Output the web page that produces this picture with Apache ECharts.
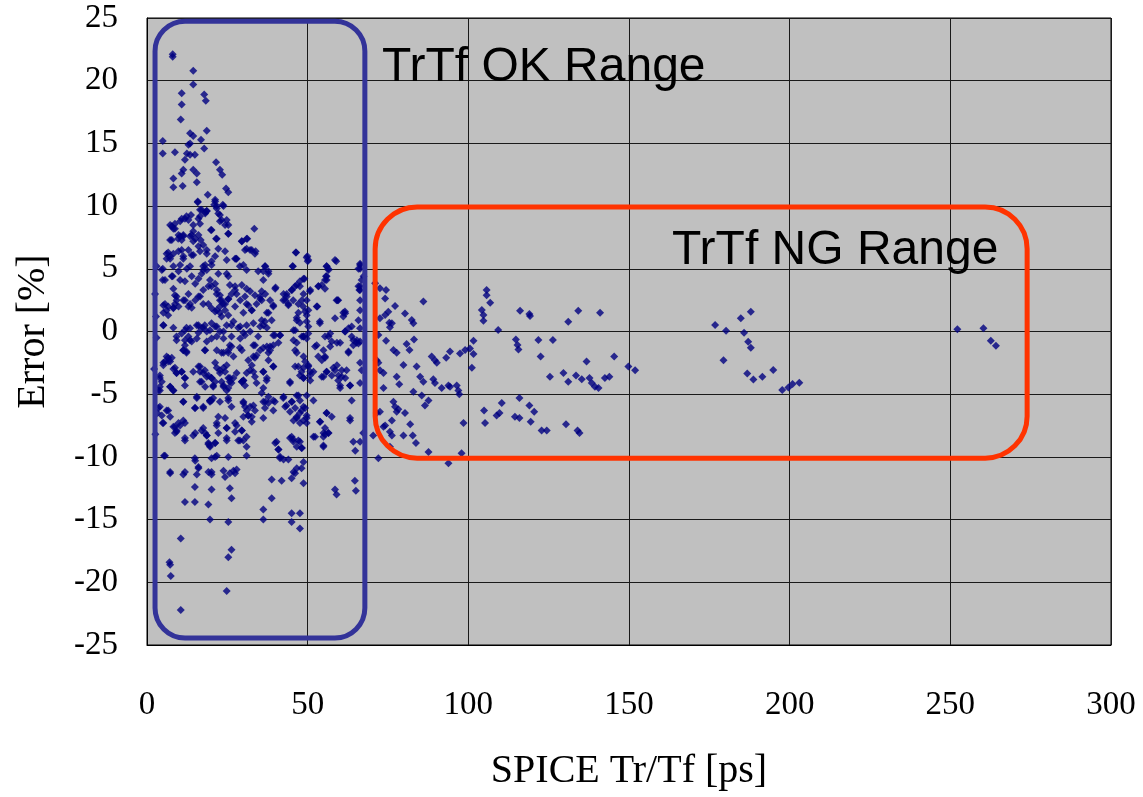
<!DOCTYPE html>
<html>
<head>
<meta charset="utf-8">
<title>TrTf error</title>
<script src="https://cdn.jsdelivr.net/npm/echarts@6/dist/echarts.min.js"></script>
<style>
    html, body { margin: 0; padding: 0; background: #fff; }
    #main { width: 1143px; height: 797px; }
</style>
</head>
<body>
<div id="main"></div>
<script>
// axis ticks
var xTicks = [0, 50, 100, 150, 200, 250, 300];
var yTicks = [-25, -20, -15, -10, -5, 0, 5, 10, 15, 20, 25];

// points, [SPICE Tr/Tf ps, error %]
var pointsUpper = [
    [8.0,22.1],[8.0,21.9],[14.4,20.8],[14.4,19.7],[10.8,19.0],[10.8,18.1],[17.8,18.9],[18.3,18.4],
    [10.5,16.9],[13.4,15.8],[14.4,15.6],[13.4,15.0],[12.9,14.9],[16.8,15.3],[18.6,16.0],[4.9,15.2],
    [4.9,14.2],[8.7,14.3],[12.4,14.2],[13.4,14.1],[11.8,13.7],[14.9,14.1],[17.8,14.6],[21.5,13.5],
    [22.7,12.9],[23.4,12.5],[11.3,12.9],[10.8,12.6],[14.4,12.9],[15.5,12.6],[8.2,12.2],[8.2,11.5],
    [11.1,11.6],[15.5,11.9],[24.6,11.4],[25.3,11.1],[18.9,10.9],[21.2,10.5],[20.9,10.1],[21.7,10.0],
    [23.6,10.1],[15.8,10.3],[17.0,9.7],[18.1,9.5],[18.6,9.6],[16.5,9.2],[22.7,9.3],[23.2,8.9],
    [25.3,8.5],[13.7,9.3],[11.8,9.0],[33.4,8.2],[7.7,8.4],[8.7,8.2],[7.2,7.3],[10.3,7.6],
    [10.8,7.3],[9.7,7.4],[11.3,7.7],[19.9,8.1],[14.4,8.0],[13.4,7.6],[16.0,7.7],[14.4,7.2],
    [16.7,7.3],[21.5,7.4],[25.3,7.8],[29.5,7.2],[31.2,7.4],[31.0,6.6],[32.1,6.5],[33.8,6.4],
    [24.3,6.4],[22.2,6.6],[6.6,6.3],[7.2,6.0],[6.1,5.8],[8.2,6.2],[10.8,6.5],[11.3,5.8],
    [14.4,6.1],[16.5,6.4],[18.6,6.5],[27.7,5.8],[46.3,6.3],[49.7,5.9],[50.0,5.6],[58.5,5.7],
    [55.9,5.2],[56.4,5.0],[66.3,5.4],[65.8,5.0],[4.9,5.0],[4.9,4.1],[8.2,5.2],[8.0,4.4],
    [10.3,5.3],[12.4,5.0],[13.4,5.2],[17.5,5.2],[18.6,4.9],[20.1,5.3],[17.0,4.6],[27.9,5.8],
    [22.2,4.6],[24.8,4.6],[25.3,4.4],[28.9,5.2],[30.0,5.3],[31.0,4.9],[34.6,4.8],[36.7,5.2],
    [37.8,4.6],[45.3,5.2],[49.0,4.2],[40.0,3.5],[43.5,3.0],[45.0,3.3],[46.6,3.7],[47.6,3.6],
    [53.3,3.6],[54.4,3.7],[55.9,4.4],[55.4,4.1],[59.5,2.5],[66.3,3.6],[66.1,3.3],[5.6,2.2],
    [5.1,1.5],[6.6,2.0],[8.2,1.9],[9.2,2.8],[8.7,2.2],[11.3,2.5],[13.4,2.2],[13.9,1.9],
    [16.5,2.8],[17.5,2.2],[20.1,3.6],[21.7,3.0],[22.7,2.5],[23.7,2.2],[25.3,2.6],[25.8,3.7],
    [21.7,1.7],[22.7,1.5],[23.2,1.2],[27.4,3.6],[27.9,3.0],[29.5,3.7],[31.0,3.4],[32.1,3.2],
    [33.6,2.9],[35.2,2.6],[31.0,2.2],[32.6,1.7],[30.0,1.5],[37.8,1.5],[35.7,0.9],[39.3,2.1],
    [42.4,2.5],[44.0,2.2],[45.5,2.5],[47.1,2.2],[48.6,2.0],[49.2,1.6],[50.7,3.2],[52.8,2.0],
    [59.0,2.5],[61.1,1.5],[61.6,1.6],[66.3,1.7],[53.8,0.8],[46.6,1.1],[47.6,0.7]
];

var pointsLower = [
    [5.1,0.5],[10.8,-0.15],[11.8,0.1],[13.4,0.25],[16.0,0.5],[17.0,0.25],[18.0,0.5],[19.6,0.1],
    [21.2,0.4],[22.7,0.0],[24.8,0.5],[26.9,0.8],[29.0,0.4],[31.0,0.5],[33.1,0.65],[35.2,0.4],
    [36.7,0.8],[39.8,-0.3],[41.4,-0.3],[46.1,0.1],[48.7,-0.4],[50.2,-0.15],[53.8,0.65],[57.0,-0.15],
    [61.6,0.0],[64.2,-0.7],[65.8,-0.95],[13.4,-0.7],[11.8,-1.1],[11.3,-1.5],[12.3,-1.7],[18.0,-1.5],
    [23.2,-1.7],[25.8,-1.1],[25.3,-1.7],[26.9,-2.0],[28.9,-1.3],[33.6,-1.1],[36.2,-1.3],[37.8,-1.7],
    [38.3,-1.2],[31.5,-2.3],[33.1,-2.0],[46.6,-0.9],[46.6,-1.7],[48.7,-2.0],[49.2,-2.4],[52.8,-1.1],
    [53.3,-2.0],[55.4,-2.0],[57.5,-0.8],[60.1,-0.9],[62.7,-1.7],[64.2,-1.1],[65.2,-0.9],[6.1,-2.0],
    [7.7,-2.1],[6.6,-2.4],[5.1,-2.7],[5.6,-2.4],[8.2,-3.0],[10.8,-3.2],[9.2,-3.3],[11.8,-3.7],
    [14.4,-3.2],[16.5,-2.8],[18.0,-3.1],[19.1,-3.5],[20.1,-3.7],[21.2,-2.5],[21.7,-2.9],[22.7,-3.3],
    [23.8,-2.9],[24.8,-2.7],[25.3,-3.7],[26.9,-3.7],[27.9,-3.3],[29.5,-4.0],[30.0,-3.9],[31.0,-3.3],
    [32.1,-3.1],[33.6,-3.6],[36.2,-3.2],[37.2,-3.9],[39.3,-2.8],[44.5,-4.0],[47.1,-2.8],[48.1,-3.2],
    [48.7,-3.7],[50.2,-2.8],[50.7,-3.5],[51.8,-3.2],[54.4,-3.6],[55.9,-3.2],[57.5,-3.5],[58.5,-3.1],
    [59.5,-3.9],[60.6,-3.6],[62.1,-3.1],[63.2,-4.3],[66.3,-2.5],[66.8,-3.1],[4.0,-3.5],[4.6,-4.0],
    [7.2,-4.4],[8.2,-4.7],[4.0,-4.7],[16.5,-4.0],[20.6,-4.3],[23.2,-4.0],[23.8,-4.4],[25.3,-4.5],
    [25.8,-4.0],[20.1,-5.5],[22.7,-5.6],[25.3,-5.5],[11.3,-5.6],[15.5,-5.3],[14.9,-6.1],[17.5,-6.1],
    [19.6,-5.5],[30.0,-5.6],[31.0,-6.3],[32.1,-6.0],[31.5,-6.7],[32.6,-6.8],[33.6,-6.3],[36.2,-5.6],
    [36.7,-6.1],[37.8,-5.7],[39.3,-6.3],[39.8,-5.6],[42.4,-5.3],[43.4,-5.9],[45.0,-5.6],[46.1,-6.1],
    [46.6,-6.8],[47.6,-6.5],[48.7,-7.1],[49.7,-6.7],[46.6,-5.1],[49.7,-5.1],[48.7,-6.0],[48.1,-6.3],
    [51.8,-5.5],[53.8,-7.2],[54.9,-8.1],[55.4,-7.7],[55.9,-6.5],[57.5,-6.8],[63.7,-5.5],[63.2,-7.1],
    [66.3,-8.8],[67.3,-8.1],[3.5,-6.1],[4.6,-6.7],[6.1,-6.3],[7.2,-6.8],[4.9,-7.3],[8.7,-7.6],
    [9.8,-7.3],[11.3,-7.1],[9.2,-8.0],[11.8,-8.5],[14.4,-8.3],[17.5,-7.7],[18.6,-8.3],[19.1,-9.0],
    [21.7,-7.3],[22.2,-8.1],[19.6,-9.1],[21.2,-8.9],[24.8,-7.7],[24.8,-8.5],[27.9,-7.5],[29.5,-7.9],
    [28.9,-8.7],[31.0,-9.2],[27.4,-8.0],[40.3,-8.8],[40.9,-9.4],[41.4,-9.99],[44.0,-10.2],[45.0,-8.4],
    [45.5,-8.6],[46.6,-9.2],[48.1,-9.3],[47.6,-8.8],[52.3,-8.4],[54.9,-8.4],[56.4,-8.1],[54.9,-9.2],
    [5.3,-9.9],[14.9,-10.1],[16.0,-10.8],[15.5,-11.4],[19.1,-11.2],[20.1,-11.4],[21.2,-10.0],[24.3,-11.6],
    [25.8,-11.3],[27.4,-11.3],[27.9,-11.0],[31.0,-9.9],[7.2,-11.3],[11.3,-11.4],[14.9,-12.4],[20.1,-12.6],
    [25.8,-12.5],[26.3,-13.3],[11.8,-13.6],[14.9,-13.6],[19.1,-13.8],[19.6,-15.0],[25.3,-15.2],[38.8,-11.8],
    [41.9,-11.9],[45.0,-11.7],[46.1,-11.3],[48.1,-10.9],[48.7,-12.1],[38.8,-13.3],[36.2,-14.2],[36.2,-15.0],
    [45.0,-14.5],[47.6,-14.5],[45.0,-15.2],[47.6,-15.7],[58.5,-12.6],[59.0,-13.0],[64.7,-11.9],[65.0,-12.7],
    [10.5,-16.5],[26.3,-17.4],[25.3,-18.0],[7.0,-18.4],[7.2,-18.6],[7.4,-19.5],[24.8,-20.7],[10.5,-22.2],
    [2.5,3.0],[3.0,-0.5],[2.2,-3.0],[3.5,-4.7],[2.8,1.2],[3.2,-6.5],[2.6,-8.2],[3.0,5.2]
];

var pointsDense = [
    [15.8,10.36],[21.2,10.36],[23.8,10.0],[16.5,9.7],[18.1,9.4],[18.6,9.6],[21.7,9.8],[22.2,9.4],
    [7.2,8.5],[8.7,8.6],[8.2,8.2],[10.3,8.8],[10.8,9.0],[12.3,9.2],[12.9,8.9],[14.4,8.5],
    [16.0,9.0],[16.5,8.6],[22.7,8.8],[24.3,8.5],[24.8,8.9],[25.3,7.8],[20.1,8.1],[21.7,7.4],
    [9.8,7.7],[11.3,7.6],[7.7,7.3],[13.9,7.7],[15.0,7.4],[16.0,6.8],[17.5,6.9],[18.6,6.2],
    [6.1,6.2],[7.2,5.8],[9.8,6.4],[11.3,6.0],[12.9,6.5],[13.9,6.1],[29.5,7.2],[31.0,7.4],
    [30.5,6.5],[32.6,6.5],[33.6,6.2],[27.4,5.8],[24.8,5.7],[21.2,6.0],[20.1,5.6],[18.1,5.3],
    [17.5,4.9],[4.6,4.9],[5.6,4.1],[7.7,4.4],[9.8,4.8],[10.3,4.1],[11.8,4.0],[13.9,4.4],
    [15.0,3.8],[16.0,4.2],[19.6,4.1],[21.2,3.8],[21.7,3.3],[22.7,2.9],[23.2,2.5],[24.3,2.2],
    [25.3,2.6],[26.3,3.0],[27.4,3.3],[8.2,3.4],[8.7,2.9],[9.2,2.5],[12.9,3.0],[11.8,2.5],
    [12.9,2.0],[15.0,2.5],[16.0,2.8],[17.5,3.3],[19.1,3.6],[5.1,2.1],[6.1,1.7],[6.6,1.3],
    [8.2,1.85],[9.8,2.0],[19.1,2.2],[20.1,1.85],[21.2,1.6],[22.7,2.0],[24.3,1.7],[25.3,1.3],
    [27.4,2.0],[29.0,2.5],[30.5,2.8],[31.5,2.1],[32.6,1.7],[34.1,2.2],[35.7,2.5],[5.1,0.5],
    [8.2,0.3],[9.2,-0.4],[12.3,0.3],[12.9,-0.4],[15.5,0.5],[16.0,-0.1],[17.5,0.3],[18.6,0.0],
    [20.1,0.65],[21.7,0.4],[23.8,0.0],[26.3,0.5],[28.4,0.3],[30.0,-0.1],[32.1,0.0],[34.6,-0.4],
    [46.4,6.3],[49.9,6.0],[50.2,5.7],[45.4,5.2],[58.9,5.6],[55.9,5.2],[56.5,4.9],[66.3,5.3],
    [66.3,5.0],[36.8,5.2],[36.2,4.8],[37.8,4.8],[36.2,4.1],[39.9,3.4],[38.3,2.5],[36.8,3.0],
    [35.7,3.2],[35.2,2.8],[42.5,3.0],[43.5,2.8],[45.1,3.3],[46.1,3.6],[47.6,4.0],[48.7,4.2],
    [43.0,2.5],[44.0,2.1],[48.2,2.5],[48.7,3.0],[49.7,2.5],[50.8,3.3],[53.4,3.6],[55.4,3.4],
    [55.9,4.1],[55.7,4.4],[59.3,2.5],[53.0,2.0],[50.2,1.7],[49.7,1.3],[47.1,1.5],[46.6,0.9],
    [49.7,0.8],[50.2,0.4],[45.6,0.1],[58.5,1.05],[61.1,1.2],[61.7,1.45],[62.7,0.25],[63.7,0.4],
    [65.8,0.9],[66.3,0.25],[66.3,2.5],[66.8,4.1],[66.3,3.3],[65.8,3.6],[67.4,4.4],[39.3,2.0],
    [37.3,1.5],[38.8,0.9],[36.2,0.5],[37.3,0.3],[39.3,-0.3],[41.4,-0.3],[48.7,-0.4],[55.4,-0.4],
    [61.7,0.0],[63.7,-0.4],[9.2,-0.7],[11.8,-0.7],[13.9,-0.8],[15.5,-0.55],[18.6,-0.8],[20.1,-0.55],
    [21.7,-0.4],[23.8,-0.55],[26.3,-0.4],[29.0,-0.55],[30.5,-0.3],[11.3,-1.5],[12.3,-1.6],[18.1,-1.5],
    [21.7,-1.5],[23.8,-1.7],[25.3,-1.5],[26.3,-1.2],[29.5,-1.5],[33.1,-1.1],[35.2,-1.5],[33.6,-2.1],
    [32.6,-2.7],[33.1,-3.2],[34.1,-1.9],[5.1,-2.5],[6.6,-2.1],[7.2,-2.4],[8.7,-2.9],[9.2,-3.3],
    [10.8,-3.2],[11.8,-3.7],[16.0,-2.8],[16.5,-3.2],[17.5,-3.3],[18.6,-3.6],[20.1,-3.7],[21.2,-4.0],
    [20.6,-4.4],[22.7,-3.1],[24.3,-3.2],[25.8,-3.7],[26.3,-4.1],[30.0,-3.9],[30.5,-4.3],[34.1,-4.1],
    [4.0,-3.7],[4.0,-4.4],[7.2,-4.4],[8.2,-4.7],[11.8,-4.3],[15.5,-5.2],[17.0,-4.0],[18.1,-4.4],
    [19.6,-5.5],[20.6,-5.3],[23.8,-4.3],[24.8,-4.7],[29.5,-4.0],[36.2,-4.5],[4.0,-6.0],[6.6,-6.3],
    [11.3,-5.6],[15.0,-6.1],[17.5,-6.0],[19.6,-5.6],[25.3,-5.3],[26.3,-6.0],[30.0,-5.7],[30.5,-6.0],
    [33.1,-5.9],[31.5,-6.7],[32.6,-7.2],[30.0,-6.8],[5.1,-7.3],[8.2,-7.6],[9.2,-7.9],[8.7,-8.1],
    [10.3,-7.5],[11.8,-7.3],[15.0,-8.1],[17.0,-7.9],[18.1,-8.1],[18.6,-8.3],[22.2,-6.8],[21.7,-7.5],
    [24.3,-6.9],[24.8,-7.7],[27.4,-7.3],[29.5,-7.9],[28.4,-8.7],[30.0,-8.7],[31.0,-8.4],[11.8,-8.7],
    [19.1,-8.9],[21.2,-8.9],[19.6,-9.2],[24.8,-8.7],[5.6,-9.9],[15.0,-10.3],[20.1,-10.1],[21.7,-9.9],
    [25.3,-10.0],[7.2,-11.2],[11.8,-11.2],[16.0,-10.9],[20.1,-11.2],[23.8,-11.1],[26.9,-11.1],[37.3,-1.2],
    [38.3,-1.5],[39.3,-1.1],[40.9,-0.9],[45.6,-0.7],[46.1,-1.5],[48.2,-0.4],[49.7,-0.55],[52.3,-1.2],
    [54.9,-1.5],[56.5,-0.4],[57.0,-1.2],[59.1,-0.9],[62.7,-1.6],[65.3,-0.7],[66.3,-0.8],[37.8,-2.3],
    [39.3,-2.8],[36.2,-3.2],[37.3,-3.7],[46.1,-2.8],[48.7,-2.9],[50.2,-2.7],[50.8,-3.2],[47.6,-3.5],
    [48.7,-3.7],[50.8,-3.9],[54.4,-2.3],[55.4,-2.1],[54.9,-3.6],[55.9,-3.2],[58.0,-2.9],[59.1,-2.7],
    [59.6,-3.5],[60.6,-3.1],[60.1,-4.3],[61.7,-3.7],[63.2,-4.3],[66.3,-4.1],[60.1,-4.5],[44.5,-4.1],
    [35.7,-4.9],[37.8,-5.2],[36.8,-5.6],[39.3,-5.5],[36.2,-6.9],[42.5,-5.2],[43.0,-6.0],[45.1,-5.6],
    [44.5,-6.4],[45.6,-7.1],[46.6,-6.9],[47.1,-5.1],[47.6,-5.5],[49.2,-6.1],[49.7,-6.9],[49.7,-7.3],
    [47.6,-7.3],[55.9,-6.5],[53.9,-7.2],[55.4,-8.2],[56.5,-8.1],[63.2,-6.9],[51.8,-8.4],[54.9,-9.1],
    [39.9,-8.9],[40.9,-9.4],[41.4,-10.1],[42.5,-10.2],[44.5,-8.5],[45.6,-8.8],[47.1,-8.7],[48.2,-9.3],
    [48.7,-10.4],[46.6,-10.9],[45.6,-11.2],[64.2,-8.8],[64.8,-9.5]
];

var pointsRight = [
    [71.0,3.84],[72.5,3.44],[74.4,3.3],[74.1,2.64],[77.2,2.03],[86.0,2.4],[75.1,1.58],[74.1,1.31],
    [72.5,1.05],[80.3,1.44],[82.4,0.91],[82.9,0.65],[75.4,0.7],[75.6,0.33],[76.2,0.65],[105.7,3.3],
    [105.7,2.9],[106.8,2.3],[104.2,1.71],[104.7,1.31],[104.7,0.86],[109.3,0.12],[116.1,1.66],[119.0,1.39],
    [119.2,1.23],[134.2,1.66],[141.0,1.5],[131.1,0.78],[72.0,-0.28],[74.4,-0.74],[76.7,-1.48],[77.7,-1.69],
    [79.8,-2.68],[80.8,-1.0],[83.1,-0.63],[81.7,-1.48],[83.9,-2.8],[88.6,-2.0],[89.6,-2.3],[90.2,-2.5],
    [93.1,-2.1],[94.3,-1.6],[97.4,-1.75],[99.0,-1.48],[100.5,-1.35],[101.6,-0.74],[101.6,-1.8],[101.1,-2.9],
    [114.8,-0.63],[115.3,-1.08],[115.6,-1.43],[121.8,-0.68],[126.3,-0.68],[122.5,-2.0],[136.8,-2.4],[145.4,-2.0],
    [149.8,-2.8],[151.9,-3.1],[71.5,-2.3],[72.0,-2.5],[72.5,-3.1],[73.6,-3.3],[73.6,-4.5],[77.7,-3.6],
    [78.5,-4.2],[85.0,-3.6],[86.0,-4.0],[89.1,-3.8],[89.6,-4.1],[91.7,-4.5],[93.8,-4.3],[94.3,-4.4],
    [96.4,-4.3],[96.9,-4.7],[97.2,-5.0],[82.9,-4.8],[85.5,-5.1],[87.6,-5.5],[86.5,-5.9],[76.7,-5.6],
    [77.2,-6.0],[78.2,-6.2],[77.7,-6.4],[80.3,-6.5],[72.5,-6.4],[71.5,-6.5],[76.2,-7.1],[74.1,-7.5],
    [73.6,-7.6],[75.6,-8.0],[76.2,-8.3],[70.4,-8.3],[79.8,-8.3],[81.9,-7.4],[82.7,-8.3],[83.7,-8.9],
    [75.6,-9.2],[72.0,-10.1],[87.6,-9.6],[93.8,-10.5],[97.9,-9.7],[98.5,-7.3],[115.9,-5.3],[104.9,-6.3],
    [105.2,-7.3],[108.8,-6.7],[109.7,-6.5],[110.4,-5.7],[114.5,-6.8],[115.9,-6.9],[119.0,-5.9],[120.5,-6.4],
    [119.4,-7.2],[122.8,-7.9],[124.4,-7.9],[130.4,-7.4],[134.0,-7.9],[134.6,-8.1],[129.6,-3.3],[131.1,-4.0],
    [133.5,-3.5],[135.3,-3.8],[137.7,-3.7],[138.4,-4.1],[139.4,-4.4],[140.5,-4.5],[142.5,-3.7],[143.9,-3.6],
    [125.4,-3.6],[176.8,0.51],[180.2,0.06],[184.8,1.05],[187.9,1.58],[185.8,-0.1],[187.1,-0.82],[187.9,-1.29],
    [179.4,-2.3],[186.8,-3.34],[188.7,-3.82],[191.5,-3.6],[194.9,-3.07],[197.7,-4.67],[199.6,-4.46],[200.9,-4.19],
    [203.0,-4.08],[252.2,0.17],[260.3,0.25],[262.6,-0.74],[264.2,-1.13]
];

// annotation boxes in data units: [xMin, yMin, xMax, yMax]
var okBox = [2.5, -24.45, 67.8, 24.75];
var ngBox = [71.0, -10.1, 273.9, 9.93];
var okLabel = { text: 'TrTf OK Range', at: [73.1, 19.1] };
var ngLabel = { text: 'TrTf NG Range', at: [163.4, 4.5] };

var allPoints = pointsUpper.concat(pointsLower, pointsDense, pointsRight);

var chart = echarts.init(document.getElementById('main'));

var serif = 'Liberation Serif, Times New Roman, serif';
var sans = 'Liberation Sans, Arial, sans-serif';

chart.setOption({
    backgroundColor: '#fff',
    animation: false,
    grid: {
        left: 147,
        top: 18,
        right: 32,
        bottom: 152,
        show: true,
        backgroundColor: '#C0C0C0',
        borderColor: '#000',
        borderWidth: 1
    },
    xAxis: {
        type: 'value',
        min: xTicks[0],
        max: xTicks[xTicks.length - 1],
        interval: 50,
        name: 'SPICE Tr/Tf [ps]',
        nameLocation: 'middle',
        nameGap: 106,
        nameTextStyle: { fontFamily: serif, fontSize: 40, color: '#000' },
        axisLine: { onZero: false, lineStyle: { color: '#000', width: 1 } },
        axisTick: { show: false },
        axisLabel: { fontFamily: serif, fontSize: 33, color: '#000', margin: 44 },
        splitLine: { show: true, lineStyle: { color: '#1a1a1a', width: 1 } }
    },
    yAxis: {
        type: 'value',
        min: yTicks[0],
        max: yTicks[yTicks.length - 1],
        interval: 5,
        name: 'Error [%]',
        nameLocation: 'middle',
        nameRotate: 90,
        nameGap: 94,
        nameTextStyle: { fontFamily: serif, fontSize: 40, color: '#000' },
        axisLine: { onZero: false, lineStyle: { color: '#000', width: 1 } },
        axisTick: { show: false },
        axisLabel: { fontFamily: serif, fontSize: 33, color: '#000', margin: 29 },
        splitLine: { show: true, lineStyle: { color: '#1a1a1a', width: 1 } }
    },
    series: [{
        type: 'scatter',
        symbol: 'diamond',
        symbolSize: 8,
        itemStyle: { color: '#000080' },
        data: allPoints,
        z: 3
    }]
});

// draw the two range boxes and their labels on top, positioned through the axes
function boxShape(b) {
    var p1 = chart.convertToPixel({ gridIndex: 0 }, [b[0], b[3]]);
    var p2 = chart.convertToPixel({ gridIndex: 0 }, [b[2], b[1]]);
    return { x: p1[0], y: p1[1], width: p2[0] - p1[0], height: p2[1] - p1[1] };
}
var okRect = boxShape(okBox);
var ngRect = boxShape(ngBox);
var okPos = chart.convertToPixel({ gridIndex: 0 }, okLabel.at);
var ngPos = chart.convertToPixel({ gridIndex: 0 }, ngLabel.at);

okRect.r = 30;
ngRect.r = 42;

chart.setOption({
    graphic: [{
        type: 'rect',
        shape: ngRect,
        style: { fill: null, stroke: '#FF3300', lineWidth: 5 },
        z: 10
    }, {
        type: 'rect',
        shape: okRect,
        style: { fill: null, stroke: '#333399', lineWidth: 5 },
        z: 11
    }, {
        type: 'text',
        x: okPos[0],
        y: okPos[1],
        style: {
            text: okLabel.text, fill: '#000', fontFamily: sans, fontSize: 48,
            textAlign: 'left', textVerticalAlign: 'bottom'
        },
        z: 12
    }, {
        type: 'text',
        x: ngPos[0],
        y: ngPos[1],
        style: {
            text: ngLabel.text, fill: '#000', fontFamily: sans, fontSize: 48,
            textAlign: 'left', textVerticalAlign: 'bottom'
        },
        z: 12
    }]
});
</script>
</body>
</html>
